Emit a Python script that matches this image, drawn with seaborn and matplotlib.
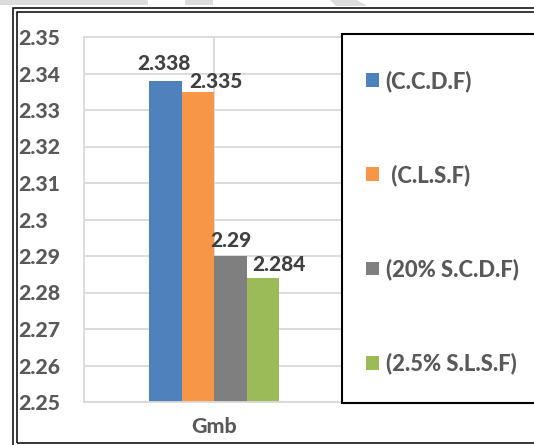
import matplotlib
matplotlib.use("Agg")
import matplotlib.pyplot as plt
from matplotlib.patches import Rectangle, Polygon
import pandas as pd
import seaborn as sns

# ---- data -------------------------------------------------------------
parameter = ["Gmb"]
mixes = ["(C.C.D.F)", " (C.L.S.F)", "(20% S.C.D.F)", "(2.5% S.L.S.F)"]
gmb_values = [2.338, 2.335, 2.29, 2.284]
bar_colors = ["#4f81bd", "#f79646", "#7f7f7f", "#9bbb59"]
y_ticks = [2.25, 2.26, 2.27, 2.28, 2.29, 2.30, 2.31, 2.32, 2.33, 2.34, 2.35]
y_tick_labels = ["2.25", "2.26", "2.27", "2.28", "2.29", "2.3",
                 "2.31", "2.32", "2.33", "2.34", "2.35"]
# value-label nudges (dx, dy) in pixels so neighbouring labels don't collide
label_offsets = [(-1, 11), (18, 4), (0.5, 9), (16, 7)]

df = pd.DataFrame({
    "param": parameter * len(mixes),
    "mix": mixes,
    "value": gmb_values,
})

sns.set_style("white")

WEIGHT = 900
plt.rcParams["font.family"] = ["Lato", "DejaVu Sans"]
plt.rcParams["font.weight"] = WEIGHT

W, H = 534, 445
fig = plt.figure(figsize=(W / 100, H / 100), dpi=100)
fig.patch.set_facecolor("white")


def fx(px):
    return px / W


def fy(py):
    return 1 - py / H


# faint strip along the top edge
strip = "#dcdcdc"
fig.patches.append(Rectangle((fx(0), fy(5)), fx(148), 5 / H, transform=fig.transFigure,
                             facecolor=strip, edgecolor="none", zorder=0))
fig.patches.append(Rectangle((fx(185), fy(5)), fx(28), 5 / H, transform=fig.transFigure,
                             facecolor=strip, edgecolor="none", zorder=0))
fig.patches.append(Polygon([(fx(330), fy(0)), (fx(357), fy(0)), (fx(367), fy(6)), (fx(336), fy(6))],
                           closed=True, transform=fig.transFigure,
                           facecolor=strip, edgecolor="none", zorder=0))

# double outer frame
for x0, y0, y1 in [(12.5, 7.5, 450), (16.5, 11.5, 442.5)]:
    fig.patches.append(Rectangle((fx(x0), fy(y1)), fx(W + 10 - x0), (y1 - y0) / H,
                                 transform=fig.transFigure, facecolor="none",
                                 edgecolor="black", linewidth=1.1, zorder=1))

# ---- bars ---------------------------------------------------------------
ax = fig.add_axes([fx(84), 1 - 402 / H, fx(260), 365 / H])
sns.barplot(data=df, x="param", y="value", hue="mix", hue_order=mixes,
            palette=bar_colors, width=0.5, saturation=1, ax=ax, legend=True)
for p in ax.patches:
    p.set_edgecolor("none")

ax.set_xlim(-0.5, 0.5)
ax.set_ylim(2.25, 2.35)
ax.set_yticks(y_ticks)
ax.set_yticklabels(y_tick_labels, ha="left")
ax.tick_params(axis="y", length=0, pad=47, labelsize=15.3, labelcolor="#595959")
ax.tick_params(axis="x", length=0, pad=11, labelsize=15.3, labelcolor="#595959")
for lab in ax.get_yticklabels() + ax.get_xticklabels():
    lab.set_fontweight(WEIGHT)
ax.set_xlabel("")
ax.set_ylabel("")
ax.set_axisbelow(True)
ax.grid(True, axis="both", color="#d9d9d9", linewidth=1.3)
for s in ax.spines.values():
    s.set_color("#d9d9d9")
    s.set_linewidth(1.3)

# value labels
for cont, val, (dx, dy) in zip(ax.containers, gmb_values, label_offsets):
    bar = cont[0]
    cx = bar.get_x() + bar.get_width() / 2
    ax.annotate(f"{val:g}", xy=(cx, val), xytext=(dx * 0.72, dy * 0.72),
                textcoords="offset points", ha="center", va="baseline",
                fontsize=15, fontweight=WEIGHT, color="#404040", annotation_clip=False)

# ---- legend panel -------------------------------------------------------
handles, labels = ax.get_legend_handles_labels()
ax.get_legend().remove()

fig.patches.append(Rectangle((fx(342), fy(403)), fx(W + 10 - 342), (403 - 34) / H,
                             transform=fig.transFigure, facecolor="white",
                             edgecolor="black", linewidth=1.5, zorder=2))
leg = fig.legend(handles, labels, loc="upper left",
                 bbox_to_anchor=(fx(366), fy(70)), frameon=False,
                 borderpad=0, borderaxespad=0, handlelength=0.6, handleheight=0.6,
                 handletextpad=0.3, labelspacing=3.3,
                 prop={"size": 15.8, "weight": WEIGHT})
leg.set_zorder(3)
for t in leg.get_texts():
    t.set_color("#595959")

fig.savefig("out.png", dpi=100)
